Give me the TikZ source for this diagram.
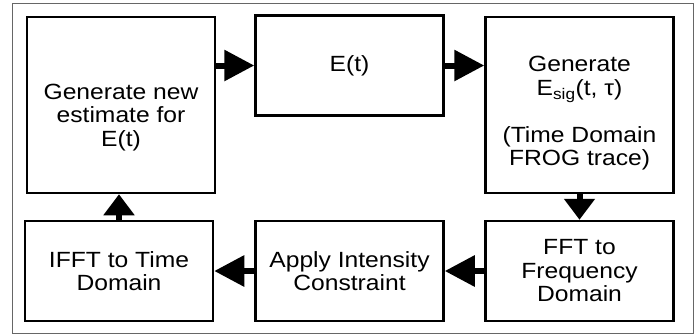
\documentclass[tikz,border=0pt]{standalone}
\usepackage{fontspec}
\setmainfont{Liberation Sans}[FakeStretch=1.12]
\usetikzlibrary{arrows.meta}

\begin{document}
\begin{tikzpicture}[x=1pt,y=-1pt,
        stage/.style={draw,line width=2.5pt,align=center,inner sep=0pt,
            font=\fontsize{22}{23.5}\selectfont},
        tall/.style={stage,minimum width=188pt,minimum height=176pt},
        short/.style={stage,minimum width=188pt,minimum height=100pt},
        flow/.style={line width=6pt,-{Triangle[length=30pt,width=30pt]}},
        flowv/.style={line width=6pt,-{Triangle[length=21pt,width=30pt]}}]
        \useasboundingbox (0,0) rectangle (694,335);
        \draw[gray!80!black,line width=1pt] (12,3) rectangle (693,333);
        \node[tall] (estimate) at (121,105) {\rule{0pt}{40pt}Generate new\\estimate for\\E(t)};
        \node[short] (field) at (349.5,65.5) {E(t)};
        \node[tall] (esig) at (579.5,105) {\rule{0pt}{32pt}Generate\\E\textsubscript{sig}(t, τ)\\[23.5pt](Time Domain\\FROG trace)};
        \node[short] (fft) at (579.5,271) {FFT to\\Frequency\\Domain};
        \node[short] (constraint) at (349.5,271) {Apply Intensity\\Constraint};
        \node[short] (ifft) at (119,271) {IFFT to Time\\Domain};
        \draw[flow] (estimate.east |- field.west) -- (field.west);
        \draw[flow] (field.east) -- (field.east -| esig.west);
        \draw[flowv] (esig.south) -- (fft.north);
        \draw[flow] (fft.west) -- (constraint.east);
        \draw[flow] (constraint.west) -- (ifft.east);
        \draw[flowv] (ifft.north) -- (ifft.north |- estimate.south);
    \end{tikzpicture}
\end{document}
